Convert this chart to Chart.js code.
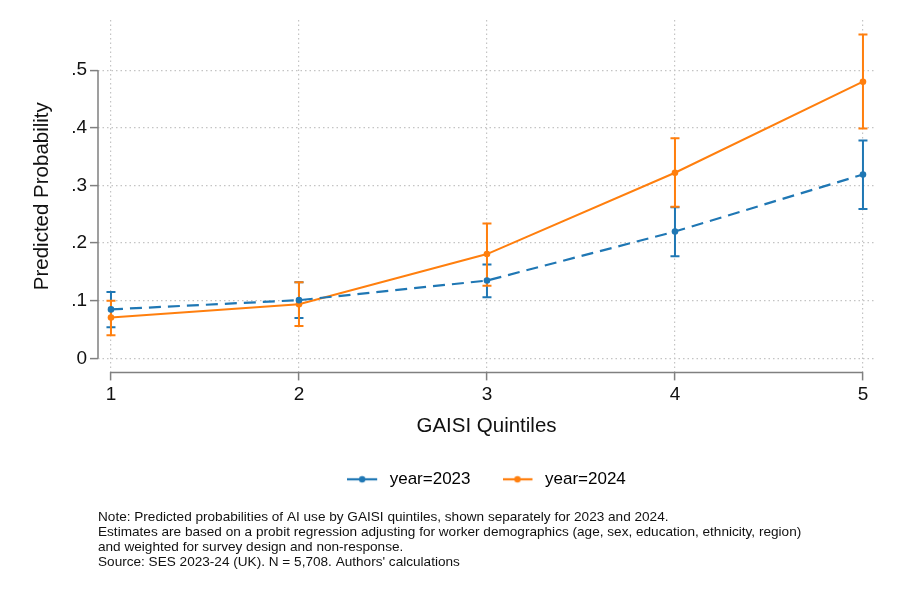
<!DOCTYPE html>
<html>
<head>
<meta charset="utf-8">
<script src="https://cdn.jsdelivr.net/npm/chart.js@4.4.0/dist/chart.umd.min.js"></script>
<style>
html,body{margin:0;padding:0;background:#fff;}
#wrap{width:897px;height:598px;}
</style>
</head>
<body>
<div id="wrap"><canvas id="c" width="897" height="598"></canvas></div>
<script>
// ---- data ----
const quintiles = [1, 2, 3, 4, 5];
const xTickLabels = ['1', '2', '3', '4', '5'];
const p2023  = [0.085, 0.101, 0.135, 0.220, 0.319];
const lo2023 = [0.054, 0.070, 0.106, 0.177, 0.259];
const hi2023 = [0.115, 0.132, 0.163, 0.262, 0.378];
const p2024  = [0.071, 0.094, 0.181, 0.322, 0.480];
const lo2024 = [0.040, 0.056, 0.126, 0.263, 0.399];
const hi2024 = [0.100, 0.132, 0.234, 0.382, 0.562];
const yTicks = [0, 0.1, 0.2, 0.3, 0.4, 0.5];
const yTickLabels = ['0', '.1', '.2', '.3', '.4', '.5'];
const seriesLabels = ['year=2023', 'year=2024'];
const noteLines = [
  'Note: Predicted probabilities of AI use by GAISI quintiles, shown separately for 2023 and 2024.',
  'Estimates are based on a probit regression adjusting for worker demographics (age, sex, education, ethnicity, region)',
  'and weighted for survey design and non-response.',
  "Source: SES 2023-24 (UK). N = 5,708. Authors' calculations"
];

const BLUE = '#1f77b4';
const ORANGE = '#ff7f0e';
const AXIS = '#808080';
const GRID = '#c4c4c4';
const FONT = "'Liberation Sans', Arial, Helvetica, sans-serif";

Chart.defaults.font.family = FONT;
Chart.defaults.color = '#111';

function legendIcon(color) {
  const cv = document.createElement('canvas');
  cv.width = 34; cv.height = 10;
  const g = cv.getContext('2d');
  g.strokeStyle = color; g.lineWidth = 2.2;
  g.beginPath(); g.moveTo(0, 5); g.lineTo(30, 5); g.stroke();
  g.fillStyle = color;
  g.beginPath(); g.arc(15, 5, 3.2, 0, Math.PI * 2); g.fill();
  return cv;
}
const icons = [legendIcon(BLUE), legendIcon(ORANGE)];

const ciSets = [
  {lo: lo2023, hi: hi2023, color: BLUE},
  {lo: lo2024, hi: hi2024, color: ORANGE}
];

const stataPlugin = {
  id: 'stata',
  beforeDatasetsDraw(chart) {
    const {ctx, scales: {x, y}} = chart;
    ctx.save();
    ciSets.forEach(s => {
      ctx.strokeStyle = s.color;
      ctx.lineWidth = 2;
      quintiles.forEach((q, i) => {
        const px = x.getPixelForValue(q);
        const pl = y.getPixelForValue(s.lo[i]);
        const ph = y.getPixelForValue(s.hi[i]);
        ctx.beginPath();
        ctx.moveTo(px, pl); ctx.lineTo(px, ph);
        ctx.moveTo(px - 4.5, pl); ctx.lineTo(px + 4.5, pl);
        ctx.moveTo(px - 4.5, ph); ctx.lineTo(px + 4.5, ph);
        ctx.stroke();
      });
    });
    ctx.restore();
  },
  afterDraw(chart) {
    const {ctx, chartArea, scales: {x, y}} = chart;
    ctx.save();
    ctx.strokeStyle = AXIS;
    ctx.lineWidth = 1.5;
    ctx.beginPath();
    ctx.moveTo(chartArea.left, y.getPixelForValue(yTicks[0]));
    ctx.lineTo(chartArea.left, y.getPixelForValue(yTicks[yTicks.length - 1]));
    ctx.moveTo(x.getPixelForValue(quintiles[0]), chartArea.bottom);
    ctx.lineTo(x.getPixelForValue(quintiles[quintiles.length - 1]), chartArea.bottom);
    ctx.stroke();
    ctx.restore();
  }
};

new Chart(document.getElementById('c'), {
  type: 'line',
  data: {
    datasets: [
      {
        label: seriesLabels[0],
        data: quintiles.map((q, i) => ({x: q, y: p2023[i]})),
        borderColor: BLUE, backgroundColor: BLUE,
        borderWidth: 2.2, borderDash: [12, 7],
        pointRadius: 3.3, pointBorderWidth: 0, pointBackgroundColor: BLUE,
        tension: 0, fill: false
      },
      {
        label: seriesLabels[1],
        data: quintiles.map((q, i) => ({x: q, y: p2024[i]})),
        borderColor: ORANGE, backgroundColor: ORANGE,
        borderWidth: 2, pointRadius: 3.3, pointBorderWidth: 0, pointBackgroundColor: ORANGE,
        tension: 0, fill: false
      }
    ]
  },
  options: {
    responsive: false,
    animation: false,
    events: [],
    layout: {padding: {left: 30, right: 22, top: 20, bottom: 28.5}},
    scales: {
      x: {
        type: 'linear', min: 0.931, max: 5.064,
        afterBuildTicks: s => { s.ticks = quintiles.map(v => ({value: v})); },
        ticks: {callback: (v, i) => xTickLabels[i], font: {size: 19}, padding: 3, color: '#111', maxRotation: 0},
        grid: {color: GRID, lineWidth: 1.2, drawTicks: true, tickLength: 8, tickColor: AXIS, tickWidth: 1.5, tickBorderDash: []},
        border: {display: false, dash: [1.5, 3]},
        title: {display: true, text: 'GAISI Quintiles', font: {size: 20.5}, color: '#111', padding: {top: 5, bottom: 0}}
      },
      y: {
        type: 'linear', min: -0.0243, max: 0.587,
        afterBuildTicks: s => { s.ticks = yTicks.map(v => ({value: v})); },
        afterFit: s => { s.width = 68; },
        ticks: {callback: (v, i) => yTickLabels[i], font: {size: 19}, padding: 3, color: '#111'},
        grid: {color: GRID, lineWidth: 1.2, drawTicks: true, tickLength: 8, tickColor: AXIS, tickWidth: 1.5, tickBorderDash: []},
        border: {display: false, dash: [1.5, 3]},
        title: {display: true, text: 'Predicted Probability', font: {size: 20.5}, color: '#111', padding: 0}
      }
    },
    plugins: {
      legend: {
        position: 'bottom', fullSize: false,
        labels: {
          usePointStyle: true, pointStyleWidth: 34, padding: 32,
          font: {size: 17}, color: '#111',
          generateLabels: chart => chart.data.datasets.map((ds, i) => ({
            text: ds.label, pointStyle: icons[i], fillStyle: ds.borderColor,
            strokeStyle: ds.borderColor, lineWidth: 0, hidden: false, datasetIndex: i
          }))
        }
      },
      subtitle: {
        display: true, position: 'bottom', fullSize: false, align: 'start',
        text: noteLines, color: '#111',
        font: {size: 13.6, lineHeight: 1.103},
        padding: {top: 11.7, bottom: 0}
      },
      tooltip: {enabled: false}
    }
  },
  plugins: [stataPlugin]
});
</script>
</body>
</html>
